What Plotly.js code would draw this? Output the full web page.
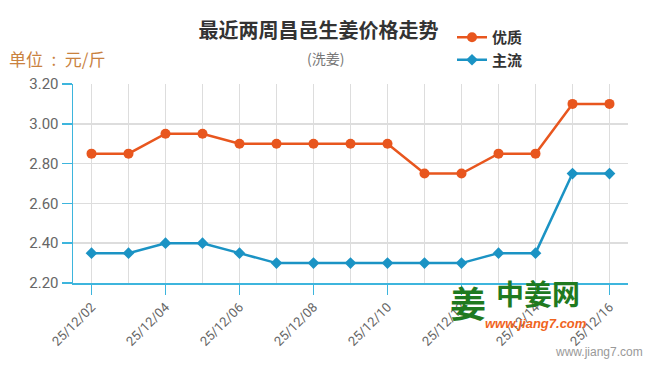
<!DOCTYPE html>
<html>
<head>
<meta charset="utf-8">
<script src="https://cdn.plot.ly/plotly-3.0.1.min.js"></script>
<style>html,body{margin:0;padding:0;background:#fff;}#chart{width:650px;height:368px;}</style>
</head>
<body>
<div id="chart"></div>
<script>
var dates = ["25/12/02","25/12/03","25/12/04","25/12/05","25/12/06","25/12/07","25/12/08","25/12/09","25/12/10","25/12/11","25/12/12","25/12/13","25/12/14","25/12/15","25/12/16"];
var premium = [2.85,2.85,2.95,2.95,2.90,2.90,2.90,2.90,2.90,2.75,2.75,2.85,2.85,3.10,3.10];
var mainstream = [2.35,2.35,2.40,2.40,2.35,2.30,2.30,2.30,2.30,2.30,2.30,2.35,2.35,2.75,2.75];
var seriesNames = ["优质","主流"];
var yTicks = [2.2,2.4,2.6,2.8,3.0,3.2];

var idx = dates.map(function(d,i){return i;});
var tickIdx = idx.filter(function(i){return i%2===0;});
var tickText = tickIdx.map(function(i){return dates[i];});

var font = 'Roboto, "Noto Sans CJK SC", sans-serif';
var cjk = '"Noto Sans CJK SC", sans-serif';
var traces = [
  {x: idx, y: premium, name: seriesNames[0], mode: 'lines+markers', type: 'scatter',
   line: {color: '#e8561e', width: 2.5}, marker: {symbol: 'circle', size: 10, color: '#e8561e'}},
  {x: idx, y: mainstream, name: seriesNames[1], mode: 'lines+markers', type: 'scatter',
   line: {color: '#1b93c4', width: 2.5}, marker: {symbol: 'diamond', size: 9, color: '#1b93c4'}}
];
var PT = 84, PH = 199, PL = 73, PW = 555;
function py(pix){ return 1 + (PT - pix)/PH; }
function px(pix){ return (pix - PL)/PW; }
var layout = {
  width: 650, height: 368,
  margin: {l: PL, r: 22, t: PT, b: 85},
  paper_bgcolor: '#fff', plot_bgcolor: '#fff',
  font: {family: font, color: '#666', size: 13},
  title: {text: '<b>最近两周昌邑生姜价格走势</b>', x: 0.49, xanchor: 'center', y: 1 - 31/368, yanchor: 'middle',
          font: {family: cjk, size: 20, color: '#333'}},
  showlegend: true,
  legend: {x: px(452), xanchor: 'left', y: py(21), yanchor: 'top', orientation: 'v', bgcolor: 'rgba(0,0,0,0)',
           font: {family: cjk, size: 15, color: '#333', weight: 'bold'},
           tracegroupgap: 0, itemwidth: 30},
  xaxis: {range: [-0.5, 14.5], tickmode: 'array', tickvals: tickIdx, ticktext: tickText,
          tickangle: -45, ticks: 'outside', ticklen: 10, tickcolor: '#3db5dd', tickwidth: 1.5,
          showgrid: true, gridcolor: '#ddd', gridwidth: 1.5,
          minor: {tickmode: 'linear', tick0: 0, dtick: 1, showgrid: true, gridcolor: '#ddd', gridwidth: 1.5, ticks: ''},
          showline: true, linecolor: '#3db5dd', linewidth: 1.5, zeroline: false,
          tickfont: {size: 13, color: '#666', family: font}, fixedrange: true},
  yaxis: {range: [2.2, 3.2], tickmode: 'array', tickvals: yTicks, tickformat: '.2f',
          ticks: 'outside', ticklen: 10, tickcolor: '#3db5dd', tickwidth: 1.5,
          showgrid: true, gridcolor: '#ddd', gridwidth: 1.5,
          showline: true, linecolor: '#3db5dd', linewidth: 1.5, zeroline: false,
          tickfont: {size: 15, color: '#666', family: font}, fixedrange: true},
  annotations: [
    {text: '(洗姜)', xref: 'paper', yref: 'paper', x: px(325), y: py(58), xanchor: 'center', yanchor: 'middle', showarrow: false,
     font: {size: 14, color: '#777', family: cjk}},
    {text: '单位\u2002:\u2002元/斤', xref: 'paper', yref: 'paper', x: px(7), y: py(58), xanchor: 'left', yanchor: 'middle', showarrow: false,
     font: {size: 17, color: '#c9823f', family: cjk}},
    {text: '<b>姜</b>', xref: 'paper', yref: 'paper', x: px(468), y: py(302), xanchor: 'center', yanchor: 'middle', showarrow: false,
     font: {size: 36, color: '#1f7a1f', family: cjk}},
    {text: '<b>中姜网</b>', xref: 'paper', yref: 'paper', x: px(538), y: py(293), xanchor: 'center', yanchor: 'middle', showarrow: false,
     font: {size: 28, color: '#1f7a1f', family: cjk}},
    {text: '<b><i>www.jiang7.com</i></b>', xref: 'paper', yref: 'paper', x: px(536), y: py(323), xanchor: 'center', yanchor: 'middle', showarrow: false,
     font: {size: 13, color: '#f0641e', family: 'Arial, "Liberation Sans", sans-serif'}},
    {text: 'www.jiang7.com', xref: 'paper', yref: 'paper', x: px(645), y: py(352), xanchor: 'right', yanchor: 'middle', showarrow: false,
     font: {size: 12, color: '#999', family: 'Arial, "Liberation Sans", sans-serif'}}
  ]
};
Plotly.newPlot('chart', traces, layout, {displayModeBar: false, staticPlot: true});
</script>
</body>
</html>
